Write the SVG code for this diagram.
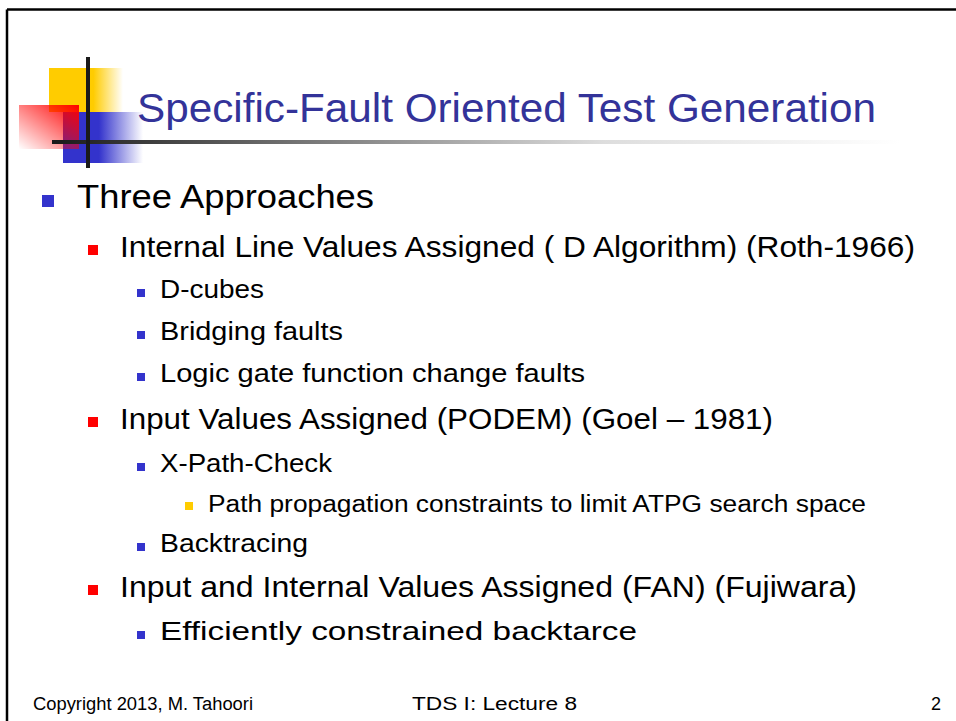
<svg xmlns="http://www.w3.org/2000/svg" width="956" height="721" viewBox="0 0 956 721">
  <defs>
    <linearGradient id="gY" x1="0" y1="0" x2="1" y2="0">
      <stop offset="0" stop-color="#FFCC00"/>
      <stop offset="0.6" stop-color="#FFCC00"/>
      <stop offset="1" stop-color="#FFCC00" stop-opacity="0"/>
    </linearGradient>
    <linearGradient id="gB" x1="0" y1="0" x2="1" y2="0">
      <stop offset="0" stop-color="#3333CC"/>
      <stop offset="0.45" stop-color="#3333CC"/>
      <stop offset="1" stop-color="#3333CC" stop-opacity="0"/>
    </linearGradient>
    <linearGradient id="gR" x1="1" y1="0" x2="0" y2="1">
      <stop offset="0" stop-color="#FF0000"/>
      <stop offset="1" stop-color="#FF0000" stop-opacity="0"/>
    </linearGradient>
    <linearGradient id="gL" gradientUnits="userSpaceOnUse" x1="52" y1="0" x2="900" y2="0">
      <stop offset="0" stop-color="#1a1a1a"/>
      <stop offset="0.3" stop-color="#777777"/>
      <stop offset="0.65" stop-color="#dddddd"/>
      <stop offset="1" stop-color="#ffffff"/>
    </linearGradient>
  </defs>
  <style>
    text { font-family: "Liberation Sans", Arial, sans-serif; fill: #000; }
    .title { font-size: 40px; fill: #333399; }
    .l1 { font-size: 34px; }
    .l2 { font-size: 30px; }
    .l3 { font-size: 25px; }
    .l4 { font-size: 23px; }
    .foot { font-size: 18px; }
    .b1 { fill: #3333CC; }
    .b2 { fill: #FF0000; }
    .b3 { fill: #3333CC; }
    .b4 { fill: #FFCC00; }
  </style>
  <rect x="0" y="0" width="956" height="721" fill="#ffffff"/>

  <g id="frame" fill="none" stroke="#000" stroke-width="2.5">
    <line x1="7" y1="9.5" x2="956" y2="9.5"/>
    <line x1="7" y1="9.5" x2="7" y2="721"/>
  </g>

  <g id="logo">
    <rect x="49" y="68" width="74" height="44" fill="url(#gY)"/>
    <rect x="63" y="112" width="80" height="51" fill="url(#gB)"/>
    <rect x="19" y="105" width="60" height="44" fill="url(#gR)"/>
    <rect x="52" y="140" width="848" height="4" fill="url(#gL)"/>
    <rect x="86" y="57" width="4" height="111" fill="#1a1a1a"/>
  </g>

  <g id="title">
    <text class="title" x="137" y="122" textLength="739" lengthAdjust="spacingAndGlyphs">Specific-Fault Oriented Test Generation</text>
  </g>

  <g id="body">
    <rect class="b1" x="42" y="195" width="12" height="12"/>
    <text class="l1" x="77" y="208" textLength="297" lengthAdjust="spacingAndGlyphs">Three Approaches</text>

    <rect class="b2" x="88" y="245" width="10" height="10"/>
    <text class="l2" x="120" y="257" textLength="795" lengthAdjust="spacingAndGlyphs">Internal Line Values Assigned ( D Algorithm) (Roth-1966)</text>

    <rect class="b3" x="137" y="289" width="8" height="8"/>
    <text class="l3" x="160" y="298" textLength="104" lengthAdjust="spacingAndGlyphs">D-cubes</text>

    <rect class="b3" x="137" y="331" width="8" height="8"/>
    <text class="l3" x="160" y="340" textLength="183" lengthAdjust="spacingAndGlyphs">Bridging faults</text>

    <rect class="b3" x="137" y="373" width="8" height="8"/>
    <text class="l3" x="160" y="382" textLength="425" lengthAdjust="spacingAndGlyphs">Logic gate function change faults</text>

    <rect class="b2" x="88" y="417" width="10" height="10"/>
    <text class="l2" x="120" y="429" textLength="653" lengthAdjust="spacingAndGlyphs">Input Values Assigned (PODEM) (Goel – 1981)</text>

    <rect class="b3" x="137" y="463" width="8" height="8"/>
    <text class="l3" x="160" y="472" textLength="172" lengthAdjust="spacingAndGlyphs">X-Path-Check</text>

    <rect class="b4" x="185" y="502" width="8" height="8"/>
    <text class="l4" x="208" y="512" textLength="658" lengthAdjust="spacingAndGlyphs">Path propagation constraints to limit ATPG search space</text>

    <rect class="b3" x="137" y="543" width="8" height="8"/>
    <text class="l3" x="160" y="552" textLength="148" lengthAdjust="spacingAndGlyphs">Backtracing</text>

    <rect class="b2" x="88" y="585" width="10" height="10"/>
    <text class="l2" x="120" y="597" textLength="737" lengthAdjust="spacingAndGlyphs">Input and Internal Values Assigned (FAN) (Fujiwara)</text>

    <rect class="b3" x="137" y="631" width="8" height="8"/>
    <text class="l3" x="160" y="640" textLength="477" lengthAdjust="spacingAndGlyphs">Efficiently constrained backtarce</text>
  </g>

  <g id="footer">
    <text class="foot" x="33" y="710" textLength="220" lengthAdjust="spacingAndGlyphs">Copyright 2013, M. Tahoori</text>
    <text class="foot" x="412" y="710" textLength="165" lengthAdjust="spacingAndGlyphs">TDS I: Lecture 8</text>
    <text class="foot" x="931" y="710">2</text>
  </g>
</svg>
